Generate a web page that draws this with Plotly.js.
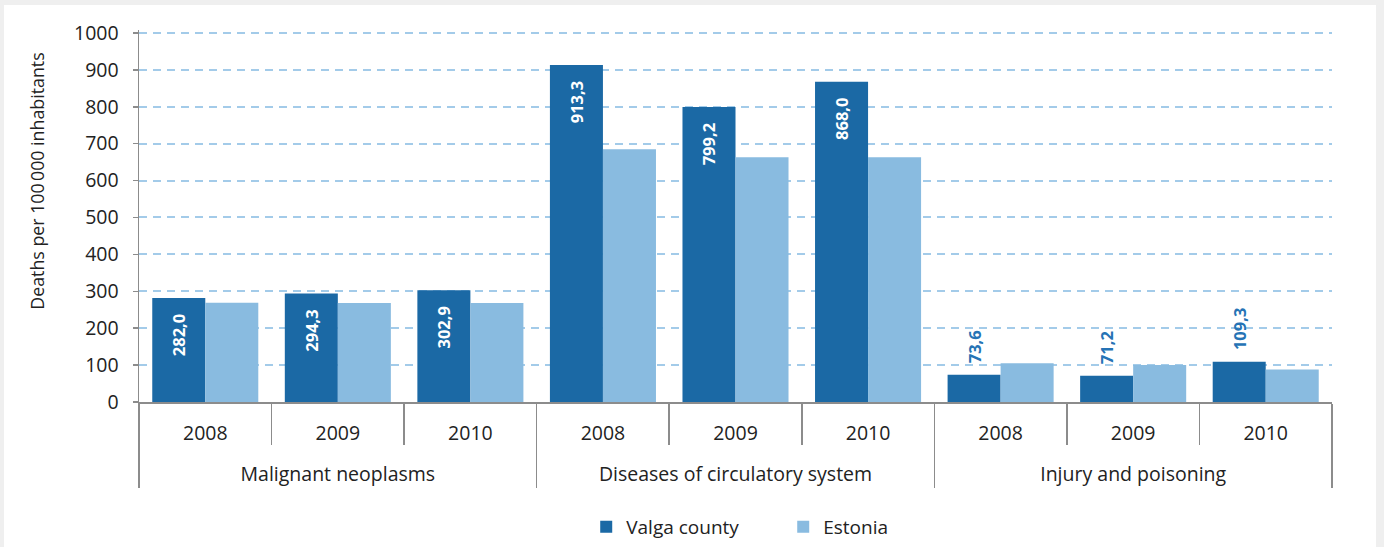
<!DOCTYPE html>
<html>
<head>
<meta charset="utf-8">
<script src="https://cdn.plot.ly/plotly-3.0.1.min.js"></script>
<style>
  html, body { margin: 0; padding: 0; background: #efefef; width: 1384px; height: 547px; overflow: hidden; }
  #chart { position: absolute; left: 4px; top: 5px; width: 1372px; height: 542px; background: #ffffff; }
</style>
</head>
<body>
<div id="chart"></div>
<script>
// ---- data ----
const causes = ['Malignant neoplasms', 'Diseases of circulatory system', 'Injury and poisoning'];
const years = ['2008', '2009', '2010'];
const valga = [282.0, 294.3, 302.9, 913.3, 799.2, 868.0, 73.6, 71.2, 109.3];
const estonia = [269, 268, 268, 685, 663, 663, 105, 100, 88];
const yTickVals = [0, 100, 200, 300, 400, 500, 600, 700, 800, 900, 1000];
const seriesNames = ['Valga county', 'Estonia'];
const yTitle = 'Deaths per 100\u202f000 inhabitants';
const labelInside = [true, true, true, true, true, true, false, false, false];

// ---- build multicategory x (outer labels pushed one line down) ----
const xOuter = [], xInner = [];
causes.forEach(c => years.forEach(y => { xOuter.push('<br>' + c); xInner.push(y); }));

const FONT = 'Open Sans, Noto Sans, sans-serif';
const NB = '\u00a0';

const traces = [
  {
    type: 'bar', name: seriesNames[0], x: [xOuter, xInner], y: valga,
    marker: { color: '#1b69a5', line: { width: 0 } },
    textangle: -90,
    textposition: labelInside.map(b => b ? 'inside' : 'outside'),
    texttemplate: labelInside.map(b => b ? '%{y:.1f}' + NB + NB + NB : NB + NB + '%{y:.1f}'),
    insidetextanchor: 'end',
    insidetextfont: { family: FONT, size: 16.5, color: '#ffffff', weight: 'bold' },
    outsidetextfont: { family: FONT, size: 16.5, color: '#2573b5', weight: 'bold' },
    cliponaxis: false,
    hoverinfo: 'skip'
  },
  {
    type: 'bar', name: seriesNames[1], x: [xOuter, xInner], y: estonia,
    marker: { color: '#89bbe0', line: { width: 0 } },
    hoverinfo: 'skip'
  }
];

const layout = {
  width: 1372, height: 542,
  margin: { l: 135, r: 44, t: 25, b: 145 },
  paper_bgcolor: '#ffffff', plot_bgcolor: '#ffffff',
  separators: ', ',
  barmode: 'group', bargap: 0.2, bargroupgap: 0,
  font: { family: FONT, size: 19, color: '#222222' },
  showlegend: true,
  legend: {
    orientation: 'h', x: 0.54, xanchor: 'center', xref: 'paper',
    yref: 'container', y: 0.037, yanchor: 'middle',
    font: { family: FONT, size: 19, color: '#222222' },
    itemwidth: 30, tracegroupgap: 0, entrywidth: 152
  },
  annotations: [{
    text: yTitle, textangle: -90, showarrow: false,
    xref: 'paper', yref: 'paper', x: -0.0855, y: 0.595, xanchor: 'center', yanchor: 'middle',
    font: { family: FONT, size: 17.8, color: '#222222' }
  }],
  xaxis: {
    type: 'multicategory',
    showline: true, linecolor: '#8c8c8c', linewidth: 1.5,
    ticks: 'outside', ticklen: 41, tickcolor: '#8c8c8c', tickwidth: 1.5,
    tickson: 'boundaries',
    ticklabelstandoff: 13,
    showdividers: true, dividercolor: '#8c8c8c', dividerwidth: 1.5,
    showgrid: false, zeroline: false,
    tickfont: { family: FONT, size: 19.5, color: '#222222' }
  },
  yaxis: {
    range: [0, 1008], tickvals: yTickVals,
    showline: true, linecolor: '#8c8c8c', linewidth: 1.5,
    ticks: 'outside', ticklen: 5, tickcolor: '#8c8c8c', tickwidth: 1.5,
    ticklabelstandoff: 10,
    showgrid: true, gridcolor: '#a3cbe9', gridwidth: 2, griddash: '8px,6px',
    zeroline: false,
    tickfont: { family: FONT, size: 19.5, color: '#222222' }
  }
};

Plotly.newPlot('chart', traces, layout, { displayModeBar: false, staticPlot: true });
</script>
</body>
</html>
